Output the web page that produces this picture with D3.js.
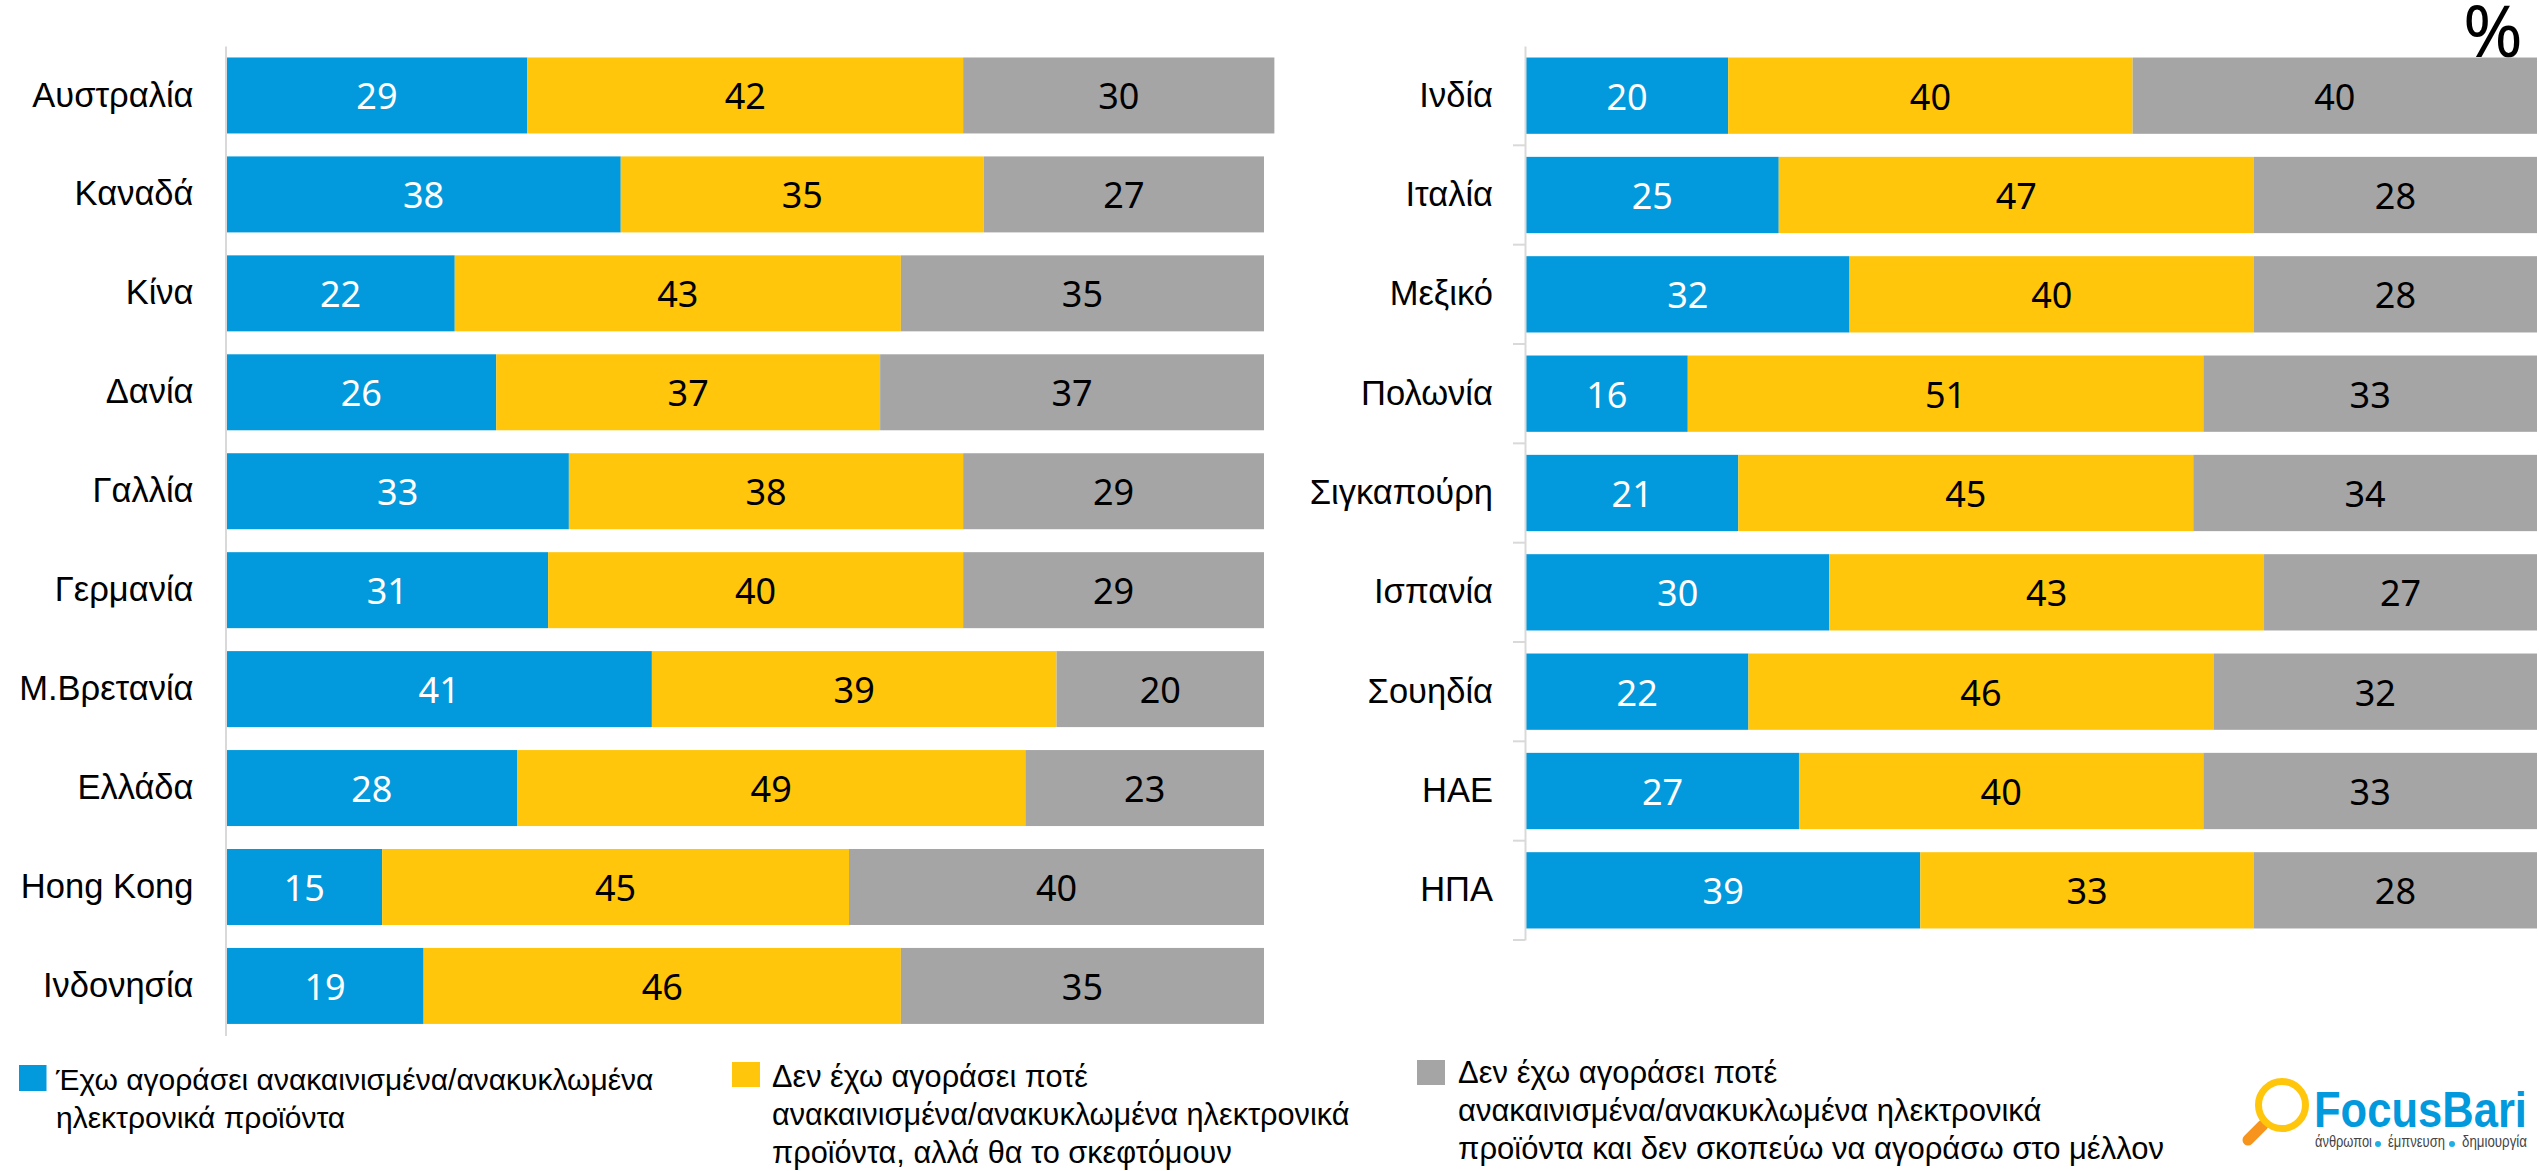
<!DOCTYPE html>
<html>
<head>
<meta charset="utf-8">
<script src="https://cdn.jsdelivr.net/npm/d3@7"></script>
<style>
  html, body { margin: 0; padding: 0; background: #fff; }
  svg { display: block; }
  text { font-family: "Liberation Sans", sans-serif; }
  .value { font-family: "Noto Sans", sans-serif; font-size: 36px; }
</style>
</head>
<body>
<div id="chart-area"></div>
<script>
// Datos
const keys = ["bought", "considering", "never"];

const leftCountries = ["Αυστραλία", "Καναδά", "Κίνα", "Δανία", "Γαλλία", "Γερμανία", "Μ.Βρετανία", "Ελλάδα", "Hong Kong", "Ινδονησία"];
const leftBought = [29, 38, 22, 26, 33, 31, 41, 28, 15, 19];
const leftConsidering = [42, 35, 43, 37, 38, 40, 39, 49, 45, 46];
const leftNever = [30, 27, 35, 37, 29, 29, 20, 23, 40, 35];

const rightCountries = ["Ινδία", "Ιταλία", "Μεξικό", "Πολωνία", "Σιγκαπούρη", "Ισπανία", "Σουηδία", "ΗΑΕ", "ΗΠΑ"];
const rightBought = [20, 25, 32, 16, 21, 30, 22, 27, 39];
const rightConsidering = [40, 47, 40, 51, 45, 43, 46, 40, 33];
const rightNever = [40, 28, 28, 33, 34, 27, 32, 33, 28];

const legendLabels = [
  ["Έχω αγοράσει ανακαινισμένα/ανακυκλωμένα", "ηλεκτρονικά προϊόντα"],
  ["Δεν έχω αγοράσει ποτέ", "ανακαινισμένα/ανακυκλωμένα ηλεκτρονικά", "προϊόντα, αλλά θα το σκεφτόμουν"],
  ["Δεν έχω αγοράσει ποτέ", "ανακαινισμένα/ανακυκλωμένα ηλεκτρονικά", "προϊόντα και δεν σκοπεύω να αγοράσω στο μέλλον"]
];

const color = d3.scaleOrdinal().domain(keys).range(["#029ADC", "#FFC60B", "#A5A5A5"]);
const labelColor = d3.scaleOrdinal().domain(keys).range(["#fff", "#000", "#000"]);

const svg = d3.select("#chart-area")
  .append("svg")
  .attr("width", 2539)
  .attr("height", 1171);

// Símbolo de porcentaje (queda detrás de la barra)
svg.append("text")
  .attr("x", 2493)
  .attr("y", 57)
  .attr("text-anchor", "middle")
  .style("font-family", "'Noto Sans', sans-serif")
  .style("font-size", "72px")
  .text("%");

// Panel de barras apiladas
function drawPanel(opts) {
  const rows = opts.countries.map((c, i) => ({
    country: c,
    bought: opts.bought[i],
    considering: opts.considering[i],
    never: opts.never[i]
  }));

  const x = d3.scaleLinear().domain([0, 100]).range(opts.xRange);
  const y = d3.scaleBand()
    .domain(opts.countries)
    .range(opts.yRange)
    .paddingInner(0.232)
    .paddingOuter(0.116);

  const g = svg.append("g");

  const layer = g.selectAll(".layer")
    .data(d3.stack().keys(keys)(rows))
    .enter().append("g")
    .attr("class", "layer");

  layer.selectAll("rect")
    .data(d => d)
    .enter().append("rect")
    .attr("x", d => x(d[0]))
    .attr("y", d => y(d.data.country))
    .attr("width", d => x(d[1]) - x(d[0]))
    .attr("height", y.bandwidth())
    .attr("fill", function () { return color(d3.select(this.parentNode).datum().key); });

  layer.selectAll("text")
    .data(d => d)
    .enter().append("text")
    .attr("class", "value")
    .attr("x", d => (x(d[0]) + x(d[1])) / 2)
    .attr("y", d => y(d.data.country) + y.bandwidth() / 2 + 1)
    .attr("dy", "0.36em")
    .attr("text-anchor", "middle")
    .attr("fill", function () { return labelColor(d3.select(this.parentNode).datum().key); })
    .text(function (d) { return d[1] - d[0]; });

  // Eje Y
  const axis = g.append("g")
    .attr("transform", `translate(${opts.xRange[0] - 1}, 0)`)
    .call(d3.axisLeft(y).tickSize(0).tickPadding(32));
  axis.select(".domain").attr("stroke", "#D9D9D9").attr("stroke-width", 2);
  axis.selectAll("text").style("font-size", "34.5px").attr("fill", "#000");

  // Marcas entre categorías
  if (opts.edgeTicks) {
    axis.selectAll(".edge")
      .data(opts.countries)
      .enter().append("line")
      .attr("class", "edge")
      .attr("x1", -12)
      .attr("x2", 0)
      .attr("y1", d => y(d) + y.step() - y.step() * 0.116)
      .attr("y2", d => y(d) + y.step() - y.step() * 0.116)
      .attr("stroke", "#D9D9D9")
      .attr("stroke-width", 2);
  }
}

drawPanel({
  countries: leftCountries, bought: leftBought, considering: leftConsidering, never: leftNever,
  xRange: [226.5, 1264], yRange: [46, 1035.4], edgeTicks: false
});

drawPanel({
  countries: rightCountries, bought: rightBought, considering: rightConsidering, never: rightNever,
  xRange: [1526, 2537], yRange: [46, 940], edgeTicks: true
});

// Leyenda
const legendPos = [
  { sx: 19, sy: 1065, sw: 27.5, sh: 26, tx: 56, ty: 1090, size: 30 },
  { sx: 732, sy: 1062, sw: 28, sh: 25, tx: 772, ty: 1087, size: 30.7 },
  { sx: 1417, sy: 1060, sw: 28, sh: 25, tx: 1458, ty: 1083, size: 31 }
];

const legend = svg.selectAll(".legend")
  .data(keys)
  .enter().append("g")
  .attr("class", "legend");

legend.append("rect")
  .attr("x", (d, i) => legendPos[i].sx)
  .attr("y", (d, i) => legendPos[i].sy)
  .attr("width", (d, i) => legendPos[i].sw)
  .attr("height", (d, i) => legendPos[i].sh)
  .attr("fill", d => color(d));

legend.each(function (d, i) {
  d3.select(this).selectAll("text")
    .data(legendLabels[i])
    .enter().append("text")
    .attr("x", legendPos[i].tx)
    .attr("y", (t, j) => legendPos[i].ty + j * 38)
    .style("font-size", legendPos[i].size + "px")
    .attr("fill", "#000")
    .text(t => t);
});

// Logo
const logo = svg.append("g");
logo.append("line")
  .attr("x1", 2263).attr("y1", 1125).attr("x2", 2248).attr("y2", 1140)
  .attr("stroke", "#F7941D").attr("stroke-width", 11).attr("stroke-linecap", "round");
logo.append("circle")
  .attr("cx", 2282).attr("cy", 1105).attr("r", 23.5)
  .attr("fill", "#fff").attr("stroke", "#FFC60B").attr("stroke-width", 7);

// Texto estrechado a un ancho fijo, sin textLength
function fitText(sel, px, py, targetWidth) {
  const natural = sel.node().getComputedTextLength();
  sel.attr("transform", `translate(${px}, ${py}) scale(${targetWidth / natural}, 1)`);
}

logo.append("text")
  .style("font-size", "50px").style("font-weight", "bold")
  .attr("fill", "#029ADC")
  .text("FocusBari")
  .call(fitText, 2314, 1127, 213);

const taglineWords = [
  { text: "άνθρωποι", x: 2315, width: 57 },
  { text: "έμπνευση", x: 2388, width: 57 },
  { text: "δημιουργία", x: 2462, width: 65 }
];
taglineWords.forEach(w => {
  logo.append("text")
    .style("font-size", "17px")
    .attr("fill", "#444")
    .text(w.text)
    .call(fitText, w.x, 1147, w.width);
});
logo.selectAll(".dot")
  .data([2378, 2452])
  .enter().append("circle")
  .attr("class", "dot")
  .attr("cx", d => d)
  .attr("cy", 1144)
  .attr("r", 3)
  .attr("fill", "#1CB0E6");
</script>
</body>
</html>
